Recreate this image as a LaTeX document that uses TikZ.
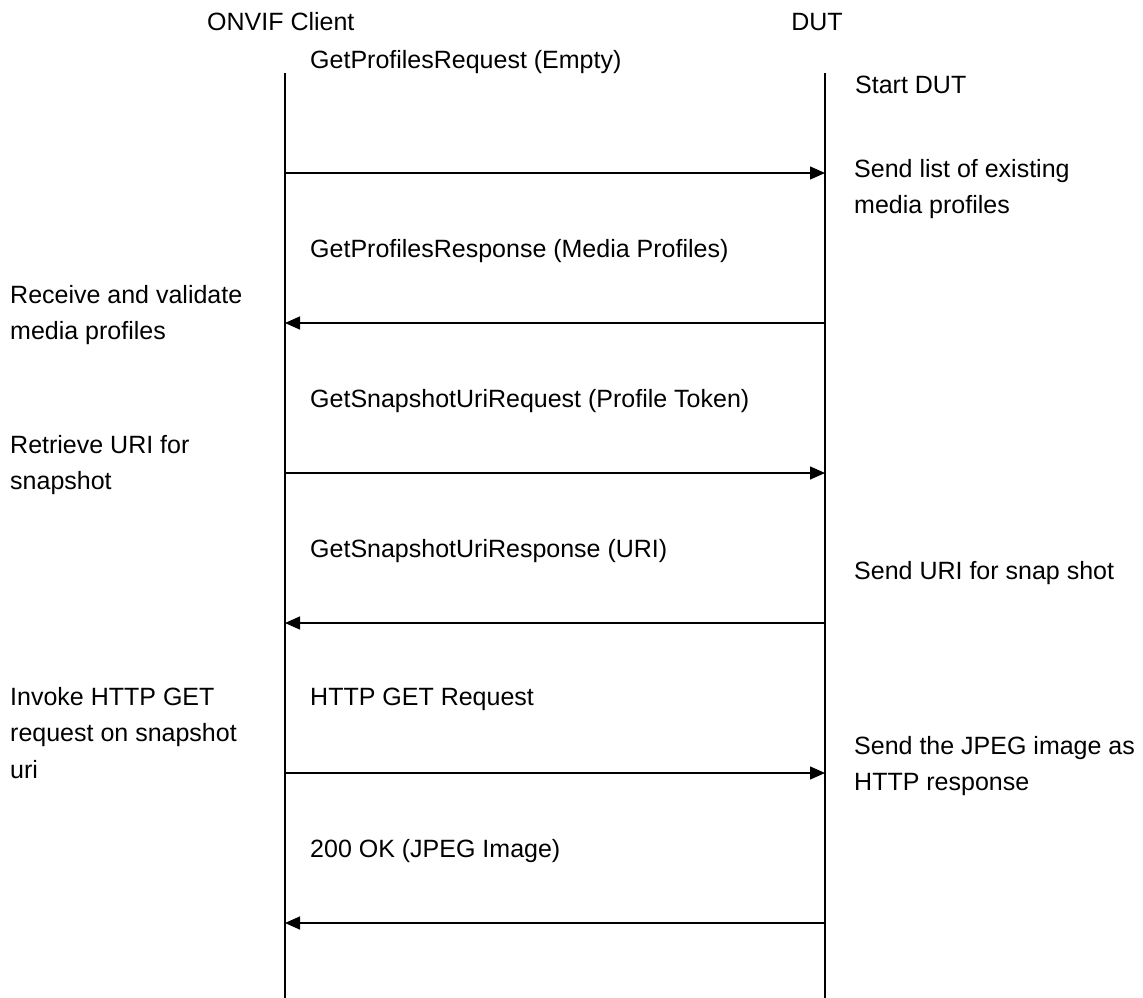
\documentclass[tikz,border=0pt]{standalone}
\usepackage{fontspec}
\setmainfont{Liberation Sans}
\usetikzlibrary{arrows.meta}
\begin{document}
\begin{tikzpicture}[x=1pt,y=-1pt,
  lbl/.style={anchor=base west,inner sep=0pt,align=left,font=\fontsize{25}{36.5}\selectfont},
  life/.style={line width=1.7pt},
  msg/.style={line width=1.4pt,-{Triangle[length=15pt,width=13pt]}}]
\useasboundingbox (0,0) rectangle (1143,998);
% headers
\node[lbl] (hc) at (207,31) {ONVIF Client};
\node[lbl,anchor=base] (hd) at (817,31) {DUT};
% lifelines
\coordinate (ct) at (285,73);
\coordinate (cb) at (285,998);
\coordinate (dt) at (825,73);
\coordinate (db) at (825,998);
\draw[life] (ct) -- (cb);
\draw[life] (dt) -- (db);
% arrow endpoints
\foreach \i/\y in {1/173,2/323,3/473,4/623,5/773,6/923}{
  \coordinate (c\i) at (285,\y);
  \coordinate (d\i) at (825,\y);
}
\draw[msg] (c1) -- (d1);
\draw[msg] (d2) -- (c2);
\draw[msg] (c3) -- (d3);
\draw[msg] (d4) -- (c4);
\draw[msg] (c5) -- (d5);
\draw[msg] (d6) -- (c6);
% message labels
\node[lbl] (m1) at (310,69) {GetProfilesRequest (Empty)};
\node[lbl] (m2) at (310,257) {GetProfilesResponse (Media Profiles)};
\node[lbl] (m3) at (310,407) {GetSnapshotUriRequest (Profile Token)};
\node[lbl] (m4) at (310,557) {GetSnapshotUriResponse (URI)};
\node[lbl] (m5) at (310,705) {HTTP GET Request};
\node[lbl] (m6) at (310,857) {200 OK (JPEG Image)};
% DUT side (base = last line)
\node[lbl] (r1) at (855,93) {Start DUT};
\node[lbl] (r2) at (854,213.5) {Send list of existing\\media profiles};
\node[lbl] (r3) at (854,579) {Send URI for snap shot};
\node[lbl] (r4) at (854,790.5) {Send the JPEG image as\\HTTP response};
% client side (base = last line)
\node[lbl] (l1) at (10,339.5) {Receive and validate\\media profiles};
\node[lbl] (l2) at (10,489.5) {Retrieve URI for\\snapshot};
\node[lbl] (l3) at (10,778) {Invoke HTTP GET\\request on snapshot\\uri};
\end{tikzpicture}
\end{document}
